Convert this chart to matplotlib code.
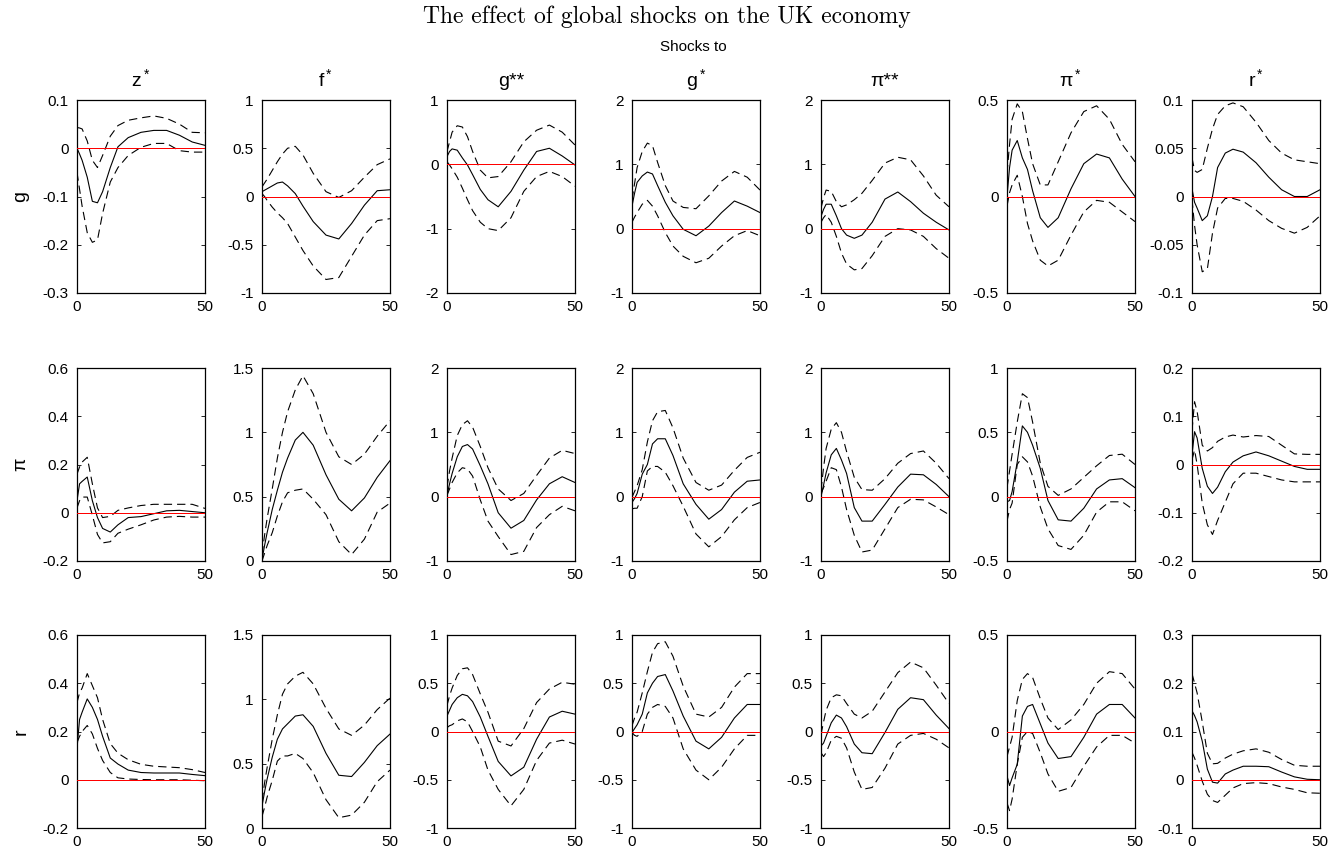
import matplotlib
matplotlib.use('Agg')
import matplotlib.pyplot as plt
from matplotlib.ticker import MultipleLocator, FuncFormatter
import numpy as np

plt.rcParams['font.family'] = ['Liberation Sans', 'DejaVu Sans']
plt.rcParams['mathtext.fontset'] = 'custom'
plt.rcParams['mathtext.rm'] = 'Liberation Sans'
plt.rcParams['mathtext.it'] = 'Liberation Sans'
plt.rcParams['lines.scale_dashes'] = False

horizon = [0, 1, 2, 4, 6, 8, 10, 13, 16, 20, 25, 30, 35, 40, 45, 50]

shock_titles = [r'$\mathregular{z^*}$', r'$\mathregular{f^*}$', 'g**', r'$\mathregular{g^*}$',
                'π**', r'$\mathregular{π^*}$', r'$\mathregular{r^*}$']
row_labels = ['g', 'π', 'r']

# ---- responses of g ----
g_zs = [0, -0.012, -0.025, -0.06, -0.11, -0.113, -0.09, -0.04, 0.003, 0.022, 0.033, 0.037, 0.037, 0.027, 0.013, 0.006]
g_zs_hi = [0.043, 0.042, 0.04, 0.015, -0.025, -0.04, -0.015, 0.025, 0.047, 0.058, 0.063, 0.067, 0.062, 0.05, 0.033, 0.032]
g_zs_lo = [-0.05, -0.085, -0.12, -0.175, -0.195, -0.19, -0.135, -0.07, -0.04, -0.015, 0.002, 0.01, 0.01, -0.005, -0.008, -0.008]

g_fs = [0.05, 0.065, 0.08, 0.11, 0.14, 0.15, 0.11, 0.03, -0.1, -0.26, -0.4, -0.44, -0.28, -0.09, 0.06, 0.07]
g_fs_hi = [0.1, 0.14, 0.18, 0.27, 0.36, 0.44, 0.5, 0.52, 0.43, 0.24, 0.05, -0.01, 0.06, 0.2, 0.33, 0.39]
g_fs_lo = [0.03, 0.0, -0.04, -0.11, -0.17, -0.22, -0.28, -0.42, -0.56, -0.72, -0.86, -0.84, -0.62, -0.4, -0.25, -0.23]

g_gss = [0.12, 0.2, 0.24, 0.22, 0.1, -0.01, -0.16, -0.39, -0.55, -0.66, -0.42, -0.09, 0.2, 0.25, 0.13, -0.01]
g_gss_hi = [0.2, 0.35, 0.5, 0.6, 0.58, 0.43, 0.2, -0.09, -0.21, -0.19, 0.04, 0.35, 0.53, 0.61, 0.5, 0.3]
g_gss_lo = [0.04, -0.01, -0.07, -0.2, -0.37, -0.55, -0.72, -0.9, -1.0, -1.03, -0.83, -0.42, -0.19, -0.11, -0.19, -0.34]

g_gs = [0.35, 0.55, 0.72, 0.82, 0.88, 0.85, 0.67, 0.41, 0.2, -0.01, -0.11, 0.04, 0.25, 0.43, 0.35, 0.25]
g_gs_hi = [0.45, 0.7, 0.95, 1.2, 1.33, 1.29, 1.03, 0.67, 0.43, 0.33, 0.31, 0.51, 0.74, 0.89, 0.8, 0.6]
g_gs_lo = [0.1, 0.18, 0.25, 0.38, 0.44, 0.35, 0.2, -0.06, -0.27, -0.43, -0.53, -0.46, -0.27, -0.11, -0.03, -0.11]

g_pss = [0.19, 0.3, 0.38, 0.38, 0.2, 0.0, -0.1, -0.15, -0.1, 0.1, 0.46, 0.57, 0.42, 0.24, 0.1, -0.02]
g_pss_hi = [0.32, 0.48, 0.6, 0.58, 0.42, 0.34, 0.37, 0.45, 0.55, 0.75, 1.02, 1.11, 1.07, 0.82, 0.52, 0.34]
g_pss_lo = [0.1, 0.17, 0.22, 0.1, -0.12, -0.38, -0.55, -0.64, -0.62, -0.42, -0.12, 0.0, -0.02, -0.12, -0.31, -0.46]

g_ps = [0.0, 0.15, 0.24, 0.29, 0.2, 0.14, 0.03, -0.11, -0.16, -0.11, 0.04, 0.17, 0.22, 0.2, 0.09, 0.0]
g_ps_hi = [0.12, 0.27, 0.4, 0.48, 0.44, 0.3, 0.17, 0.06, 0.06, 0.18, 0.33, 0.44, 0.47, 0.4, 0.27, 0.18]
g_ps_lo = [-0.05, 0.02, 0.06, 0.11, 0.0, -0.14, -0.23, -0.33, -0.36, -0.33, -0.2, -0.08, -0.02, -0.03, -0.08, -0.13]

g_rs = [0.008, -0.006, -0.012, -0.025, -0.02, 0.0, 0.03, 0.045, 0.049, 0.046, 0.035, 0.02, 0.007, 0.0, 0.0, 0.007]
g_rs_hi = [0.04, 0.027, 0.025, 0.028, 0.05, 0.07, 0.085, 0.094, 0.097, 0.093, 0.077, 0.058, 0.045, 0.038, 0.036, 0.034]
g_rs_lo = [-0.003, -0.03, -0.05, -0.078, -0.075, -0.038, -0.012, -0.002, -0.002, -0.005, -0.014, -0.025, -0.033, -0.038, -0.032, -0.02]

# ---- responses of pi ----
pi_zs = [0.05, 0.12, 0.13, 0.148, 0.05, -0.02, -0.065, -0.08, -0.05, -0.02, -0.016, -0.004, 0.008, 0.01, 0.005, 0.0]
pi_zs_hi = [0.16, 0.19, 0.21, 0.23, 0.12, 0.02, -0.02, -0.015, 0.01, 0.02, 0.03, 0.035, 0.035, 0.035, 0.035, 0.018]
pi_zs_lo = [0.02, 0.05, 0.065, 0.065, -0.01, -0.09, -0.125, -0.12, -0.085, -0.068, -0.05, -0.03, -0.018, -0.015, -0.018, -0.018]

pi_fs = [0.01, 0.12, 0.22, 0.4, 0.55, 0.69, 0.8, 0.94, 1.0, 0.9, 0.67, 0.48, 0.39, 0.49, 0.65, 0.78]
pi_fs_hi = [0.05, 0.2, 0.33, 0.56, 0.8, 1.0, 1.16, 1.33, 1.44, 1.3, 1.0, 0.81, 0.75, 0.83, 0.97, 1.09]
pi_fs_lo = [0.0, 0.06, 0.12, 0.22, 0.35, 0.46, 0.53, 0.55, 0.56, 0.48, 0.36, 0.15, 0.05, 0.17, 0.38, 0.45]

pi_gss = [0.02, 0.2, 0.36, 0.62, 0.78, 0.81, 0.74, 0.48, 0.2, -0.25, -0.49, -0.37, -0.05, 0.2, 0.31, 0.22]
pi_gss_hi = [0.15, 0.4, 0.6, 0.95, 1.12, 1.18, 1.08, 0.78, 0.45, 0.12, -0.06, 0.05, 0.33, 0.6, 0.72, 0.67]
pi_gss_lo = [0.02, 0.12, 0.22, 0.37, 0.45, 0.43, 0.32, -0.05, -0.38, -0.62, -0.9, -0.85, -0.48, -0.28, -0.15, -0.22]

pi_gs = [-0.09, -0.03, 0.05, 0.35, 0.5, 0.82, 0.9, 0.9, 0.64, 0.2, -0.12, -0.35, -0.2, 0.07, 0.24, 0.26]
pi_gs_hi = [-0.01, 0.08, 0.17, 0.42, 0.85, 1.18, 1.32, 1.34, 1.07, 0.6, 0.22, 0.1, 0.18, 0.41, 0.61, 0.69]
pi_gs_lo = [-0.19, -0.18, -0.18, 0.0, 0.4, 0.47, 0.47, 0.38, 0.17, -0.15, -0.58, -0.78, -0.62, -0.36, -0.17, -0.09]

pi_pss = [0.0, 0.18, 0.37, 0.65, 0.75, 0.57, 0.36, -0.17, -0.38, -0.38, -0.12, 0.15, 0.35, 0.34, 0.19, 0.0]
pi_pss_hi = [0.1, 0.45, 0.75, 1.05, 1.15, 1.0, 0.7, 0.3, 0.11, 0.1, 0.28, 0.52, 0.67, 0.71, 0.52, 0.28]
pi_pss_lo = [0.05, 0.14, 0.24, 0.45, 0.42, 0.15, -0.2, -0.6, -0.86, -0.83, -0.5, -0.17, -0.04, -0.05, -0.16, -0.28]

pi_ps = [-0.04, -0.03, 0.04, 0.27, 0.55, 0.5, 0.4, 0.22, -0.03, -0.18, -0.19, -0.09, 0.06, 0.13, 0.14, 0.07]
pi_ps_hi = [0.07, 0.2, 0.33, 0.58, 0.8, 0.77, 0.58, 0.26, 0.08, 0.01, 0.06, 0.15, 0.24, 0.32, 0.33, 0.25]
pi_ps_lo = [-0.19, -0.1, -0.05, 0.25, 0.31, 0.27, 0.16, -0.08, -0.25, -0.38, -0.41, -0.3, -0.12, -0.04, -0.04, -0.11]

pi_rs = [0.02, 0.068, 0.055, -0.008, -0.045, -0.06, -0.047, -0.015, 0.005, 0.018, 0.026, 0.018, 0.007, -0.004, -0.01, -0.01]
pi_rs_hi = [0.07, 0.13, 0.11, 0.04, 0.028, 0.035, 0.048, 0.057, 0.061, 0.057, 0.06, 0.058, 0.04, 0.022, 0.021, 0.021]
pi_rs_lo = [0.01, 0.03, 0.0, -0.08, -0.125, -0.145, -0.116, -0.078, -0.04, -0.018, -0.018, -0.025, -0.032, -0.036, -0.036, -0.036]

# ---- responses of r ----
r_zs = [0.13, 0.25, 0.28, 0.335, 0.3, 0.25, 0.18, 0.09, 0.065, 0.04, 0.03, 0.028, 0.028, 0.028, 0.022, 0.017]
r_zs_hi = [0.32, 0.36, 0.38, 0.44, 0.39, 0.34, 0.25, 0.15, 0.11, 0.083, 0.064, 0.056, 0.053, 0.05, 0.042, 0.03]
r_zs_lo = [0.155, 0.18, 0.2, 0.225, 0.19, 0.13, 0.08, 0.03, 0.008, 0.003, 0.001, 0.0, 0.0, 0.0, -0.002, -0.004]

r_fs = [0.17, 0.28, 0.38, 0.55, 0.69, 0.77, 0.81, 0.87, 0.88, 0.79, 0.58, 0.41, 0.4, 0.51, 0.64, 0.73]
r_fs_hi = [0.21, 0.35, 0.47, 0.69, 0.88, 1.04, 1.12, 1.18, 1.21, 1.12, 0.93, 0.77, 0.72, 0.8, 0.92, 1.01]
r_fs_lo = [0.09, 0.16, 0.24, 0.37, 0.52, 0.56, 0.56, 0.58, 0.54, 0.43, 0.22, 0.08, 0.1, 0.2, 0.36, 0.45]

r_gss = [0.16, 0.22, 0.28, 0.35, 0.385, 0.37, 0.31, 0.15, -0.05, -0.31, -0.46, -0.37, -0.08, 0.15, 0.21, 0.18]
r_gss_hi = [0.27, 0.37, 0.45, 0.58, 0.65, 0.66, 0.59, 0.39, 0.2, -0.1, -0.15, 0.03, 0.3, 0.44, 0.51, 0.49]
r_gss_lo = [0.04, 0.06, 0.07, 0.11, 0.13, 0.1, 0.0, -0.16, -0.4, -0.6, -0.77, -0.6, -0.3, -0.12, -0.09, -0.13]

r_gs = [-0.01, 0.03, 0.07, 0.18, 0.4, 0.5, 0.57, 0.59, 0.42, 0.16, -0.1, -0.18, -0.06, 0.14, 0.28, 0.28]
r_gs_hi = [0.06, 0.14, 0.2, 0.4, 0.62, 0.82, 0.91, 0.93, 0.78, 0.47, 0.18, 0.15, 0.25, 0.46, 0.6, 0.6]
r_gs_lo = [-0.01, -0.04, -0.05, 0.0, 0.18, 0.25, 0.28, 0.26, 0.14, -0.18, -0.4, -0.5, -0.37, -0.18, -0.04, -0.04]

r_pss = [-0.15, -0.12, -0.05, 0.09, 0.17, 0.14, 0.05, -0.13, -0.22, -0.23, -0.01, 0.23, 0.35, 0.33, 0.17, 0.03]
r_pss_hi = [-0.03, 0.1, 0.22, 0.35, 0.38, 0.37, 0.29, 0.18, 0.14, 0.21, 0.41, 0.61, 0.72, 0.66, 0.48, 0.29]
r_pss_lo = [-0.22, -0.26, -0.22, -0.09, -0.05, -0.07, -0.17, -0.42, -0.6, -0.58, -0.38, -0.13, -0.04, -0.02, -0.08, -0.17]

r_ps = [-0.23, -0.28, -0.24, -0.17, 0.08, 0.13, 0.14, 0.04, -0.06, -0.14, -0.13, -0.03, 0.09, 0.14, 0.14, 0.07]
r_ps_hi = [-0.13, -0.08, -0.03, 0.16, 0.27, 0.3, 0.28, 0.17, 0.07, 0.01, 0.06, 0.14, 0.25, 0.31, 0.3, 0.22]
r_ps_lo = [-0.37, -0.41, -0.35, -0.17, -0.03, 0.0, -0.01, -0.11, -0.22, -0.31, -0.29, -0.18, -0.08, -0.02, -0.02, -0.06]

r_rs = [0.143, 0.133, 0.12, 0.08, 0.022, -0.005, -0.007, 0.012, 0.02, 0.028, 0.028, 0.027, 0.016, 0.006, 0.001, 0.0]
r_rs_hi = [0.22, 0.2, 0.18, 0.12, 0.055, 0.033, 0.034, 0.045, 0.053, 0.06, 0.064, 0.057, 0.042, 0.03, 0.028, 0.028]
r_rs_lo = [0.057, 0.045, 0.03, -0.003, -0.03, -0.043, -0.047, -0.032, -0.017, -0.008, -0.006, -0.008, -0.015, -0.02, -0.027, -0.028]

# y limits and tick steps of each panel (rows g, pi, r)
ylims = [
    [(-0.3, 0.1), (-1, 1), (-2, 1), (-1, 2), (-1, 2), (-0.5, 0.5), (-0.1, 0.1)],
    [(-0.2, 0.6), (0, 1.5), (-1, 2), (-1, 2), (-1, 2), (-0.5, 1), (-0.2, 0.2)],
    [(-0.2, 0.6), (0, 1.5), (-1, 1), (-1, 1), (-1, 1), (-0.5, 0.5), (-0.1, 0.3)],
]
ysteps = [
    [0.1, 0.5, 1, 1, 1, 0.5, 0.05],
    [0.2, 0.5, 1, 1, 1, 0.5, 0.1],
    [0.2, 0.5, 0.5, 0.5, 0.5, 0.5, 0.1],
]

panels = [
    [(g_zs, g_zs_lo, g_zs_hi), (g_fs, g_fs_lo, g_fs_hi), (g_gss, g_gss_lo, g_gss_hi),
     (g_gs, g_gs_lo, g_gs_hi), (g_pss, g_pss_lo, g_pss_hi), (g_ps, g_ps_lo, g_ps_hi),
     (g_rs, g_rs_lo, g_rs_hi)],
    [(pi_zs, pi_zs_lo, pi_zs_hi), (pi_fs, pi_fs_lo, pi_fs_hi), (pi_gss, pi_gss_lo, pi_gss_hi),
     (pi_gs, pi_gs_lo, pi_gs_hi), (pi_pss, pi_pss_lo, pi_pss_hi), (pi_ps, pi_ps_lo, pi_ps_hi),
     (pi_rs, pi_rs_lo, pi_rs_hi)],
    [(r_zs, r_zs_lo, r_zs_hi), (r_fs, r_fs_lo, r_fs_hi), (r_gss, r_gss_lo, r_gss_hi),
     (r_gs, r_gs_lo, r_gs_hi), (r_pss, r_pss_lo, r_pss_hi), (r_ps, r_ps_lo, r_ps_hi),
     (r_rs, r_rs_lo, r_rs_hi)],
]

W, H = 1333, 856
fig = plt.figure(figsize=(W / 100, H / 100), dpi=100)
fig.patch.set_facecolor('white')

col_left = [77, 262, 447, 632, 821, 1007, 1192]
row_top = [100, 368, 635]
ax_w, ax_h = 128, 193

fmt = FuncFormatter(lambda v, p: '%g' % round(v, 4) if abs(v) > 1e-9 else '0')
dash = (0, (6, 3.6))

for i in range(3):
    for j in range(7):
        ax = fig.add_axes([col_left[j] / W, 1 - (row_top[i] + ax_h) / H, ax_w / W, ax_h / H])
        mid, lo, hi = panels[i][j]
        ax.plot(horizon, mid, color='black', lw=0.8)
        ax.plot(horizon, hi, color='black', lw=0.8, linestyle=dash)
        ax.plot(horizon, lo, color='black', lw=0.8, linestyle=dash)
        # zero line, 1px and crisp like the original
        ax.plot([0, 50], [0, 0], color='red', lw=0.72, zorder=3, antialiased=False)

        ax.set_xlim(0, 50)
        ax.set_ylim(*ylims[i][j])
        ax.set_xticks([0, 50])
        ax.yaxis.set_major_locator(MultipleLocator(ysteps[i][j]))
        ax.yaxis.set_major_formatter(fmt)
        ax.tick_params(direction='in', length=3, width=0.6, top=True, right=True,
                       labelsize=11, pad=5)
        ax.tick_params(axis='y', pad=6)
        for s in ax.spines.values():
            s.set_linewidth(0.9)

        if i == 0:
            ax.text(0.5, 1.072, shock_titles[j], transform=ax.transAxes,
                    ha='center', va='baseline', fontsize=14)
        if j == 0:
            ax.text(-0.44, 0.5, row_labels[i], transform=ax.transAxes, rotation=90,
                    ha='center', va='center', fontsize=14)

fig.text(667 / W, 1 - 23 / H, 'The effect of global shocks on the UK economy',
         fontfamily='cmr10', fontsize=17, ha='center', va='baseline')
fig.text(693 / W, 1 - 47 / H, 'Shocks to', fontsize=11, ha='center', va='center')

fig.savefig('out.png', dpi=100, facecolor='white')
